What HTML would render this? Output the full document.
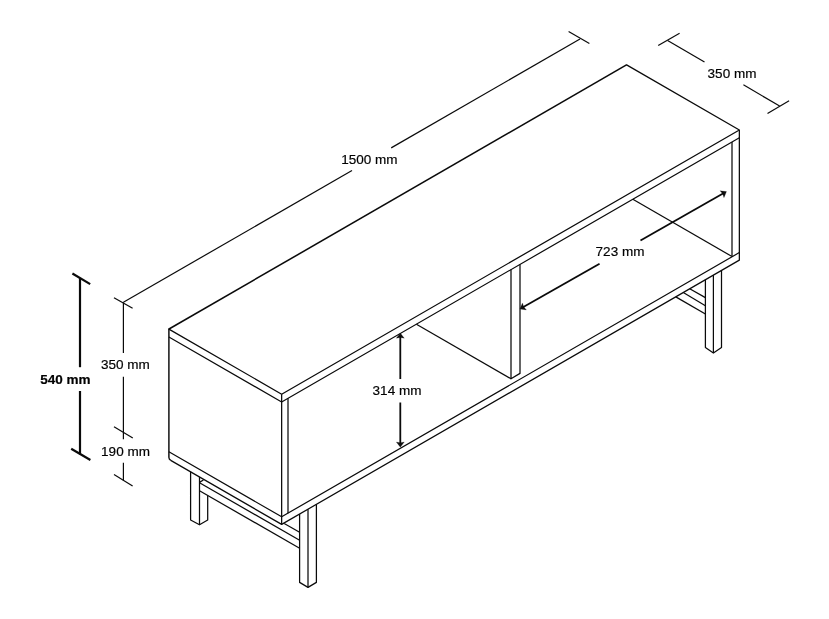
<!DOCTYPE html>
<html><head><meta charset="utf-8"><title>TV unit dimensions</title>
<style>
html,body{margin:0;padding:0;background:#fff;}
body{width:829px;height:619px;overflow:hidden;}
svg{display:block;}
text{font-family:"Liberation Sans",sans-serif;font-size:13.5px;fill:#000;stroke:#000;stroke-width:0.2px;}
</style></head><body>
<svg width="829" height="619" viewBox="0 0 829 619">
<rect width="829" height="619" fill="#fff"/>
<g stroke="#0a0a0a" fill="none">
<path d="M626.6 64.85 L739.35 129.95 L281.65 394.2 L168.9 329.1" stroke-width="1.25" fill="none" stroke-linejoin="round"/>
<line x1="168.6" y1="329.27" x2="626.9" y2="64.68" stroke-width="1.55" stroke-linecap="butt"/>
<path d="M170.7 460.34 L281.65 524.4 L739.35 260.15 L739.35 129.95" stroke-width="1.25" fill="none" stroke-linejoin="round"/>
<line x1="168.9" y1="328.8" x2="168.9" y2="457.7" stroke-width="1.45" stroke-linecap="butt"/>
<path d="M168.9 457.6 Q168.9 459.3 170.8 460.4" stroke-width="1.35" fill="none"/>
<line x1="281.65" y1="394.2" x2="281.65" y2="524.4" stroke-width="1.25" stroke-linecap="butt"/>
<path d="M168.9 336.9 L281.65 402 L739.35 137.75" stroke-width="1.2" fill="none" stroke-linejoin="round"/>
<path d="M168.9 451.7 L281.65 516.8 L739.35 252.55" stroke-width="1.2" fill="none" stroke-linejoin="round"/>
<line x1="288" y1="398.33" x2="288" y2="513.13" stroke-width="1.25" stroke-linecap="butt"/>
<line x1="732" y1="141.99" x2="732" y2="256.29" stroke-width="1.25" stroke-linecap="butt"/>
<line x1="632.84" y1="199.24" x2="732" y2="256.49" stroke-width="1.25" stroke-linecap="butt"/>
<path d="M511 269.58 L511 378.8 L520 373.4 L520 264.39" stroke-width="1.25" fill="none" stroke-linejoin="round"/>
<line x1="416.42" y1="324.19" x2="511" y2="378.8" stroke-width="1.25" stroke-linecap="butt"/>
<path d="M190.6 471.83 L190.6 520 L199.5 524.8 L207.7 520 L207.7 495.5" stroke-width="1.25" fill="none" stroke-linejoin="round"/>
<line x1="199.5" y1="476.97" x2="199.5" y2="524.8" stroke-width="1.25" stroke-linecap="butt"/>
<line x1="199.5" y1="482.8" x2="299.6" y2="540.2" stroke-width="1.25" stroke-linecap="butt"/>
<line x1="199.5" y1="490.8" x2="299.6" y2="548.2" stroke-width="1.25" stroke-linecap="butt"/>
<line x1="284.2" y1="523.5" x2="299.6" y2="532.2" stroke-width="1.25" stroke-linecap="butt"/>
<line x1="199.5" y1="482.4" x2="203.4" y2="480" stroke-width="1.25" stroke-linecap="butt"/>
<path d="M299.6 514.04 L299.6 582.4 L308 587.4 L316.4 582.4 L316.4 504.34" stroke-width="1.25" fill="none" stroke-linejoin="round"/>
<line x1="308" y1="509.19" x2="308" y2="587.4" stroke-width="1.25" stroke-linecap="butt"/>
<path d="M705.4 279.75 L705.4 347.5 L713.4 353 L721.5 347.5 L721.5 270.45" stroke-width="1.25" fill="none" stroke-linejoin="round"/>
<line x1="713.4" y1="275.13" x2="713.4" y2="353" stroke-width="1.25" stroke-linecap="butt"/>
<line x1="689.7" y1="288.81" x2="705.4" y2="297.6" stroke-width="1.25" stroke-linecap="butt"/>
<line x1="683.3" y1="292.51" x2="705.4" y2="305.7" stroke-width="1.25" stroke-linecap="butt"/>
<line x1="675.8" y1="296.84" x2="705.4" y2="314" stroke-width="1.25" stroke-linecap="butt"/>
<line x1="123.4" y1="302.3" x2="352" y2="170.48" stroke-width="1.2" stroke-linecap="butt"/>
<line x1="391.2" y1="147.87" x2="580" y2="39" stroke-width="1.2" stroke-linecap="butt"/>
<line x1="114" y1="297.7" x2="132.6" y2="308.3" stroke-width="1.2" stroke-linecap="butt"/>
<line x1="568.6" y1="31.5" x2="589.4" y2="43.5" stroke-width="1.2" stroke-linecap="butt"/>
<line x1="667.6" y1="40.4" x2="704.5" y2="62.01" stroke-width="1.2" stroke-linecap="butt"/>
<line x1="743.4" y1="84.8" x2="779.6" y2="106" stroke-width="1.2" stroke-linecap="butt"/>
<line x1="658.2" y1="45.5" x2="679.6" y2="33.3" stroke-width="1.2" stroke-linecap="butt"/>
<line x1="767.5" y1="113.5" x2="789.1" y2="100.7" stroke-width="1.2" stroke-linecap="butt"/>
<line x1="123.4" y1="302.2" x2="123.4" y2="353" stroke-width="1.2" stroke-linecap="butt"/>
<line x1="123.4" y1="376.7" x2="123.4" y2="439.3" stroke-width="1.2" stroke-linecap="butt"/>
<line x1="123.4" y1="462.8" x2="123.4" y2="480.5" stroke-width="1.2" stroke-linecap="butt"/>
<line x1="114" y1="426.7" x2="132.8" y2="438.1" stroke-width="1.2" stroke-linecap="butt"/>
<line x1="114" y1="474.6" x2="132.6" y2="486" stroke-width="1.2" stroke-linecap="butt"/>
<line x1="80" y1="278" x2="80" y2="367.2" stroke-width="2.2" stroke-linecap="butt"/>
<line x1="80" y1="391" x2="80" y2="454.5" stroke-width="2.2" stroke-linecap="butt"/>
<line x1="72.4" y1="273.5" x2="90.2" y2="284.1" stroke-width="2.2" stroke-linecap="butt"/>
<line x1="71.2" y1="448.8" x2="90.4" y2="460" stroke-width="2.2" stroke-linecap="butt"/>
<path d="M400.3 333 L396.3 338.2 L400.3 337.42 L404.3 338.2 Z" stroke-width="0.2" fill="#111" stroke-linejoin="round"/>
<path d="M400.3 447.2 L396.3 442 L400.3 442.78 L404.3 442 Z" stroke-width="0.2" fill="#111" stroke-linejoin="round"/>
<line x1="400.3" y1="336" x2="400.3" y2="379" stroke-width="1.8" stroke-linecap="butt"/>
<line x1="400.3" y1="402.5" x2="400.3" y2="444.2" stroke-width="1.8" stroke-linecap="butt"/>
<path d="M519.9 309 L526.4 309.91 L523.74 306.82 L522.44 302.95 Z" stroke-width="0.2" fill="#111" stroke-linejoin="round"/>
<path d="M726.5 191.6 L723.96 197.65 L722.66 193.78 L720 190.69 Z" stroke-width="0.2" fill="#111" stroke-linejoin="round"/>
<line x1="522.51" y1="307.52" x2="599.56" y2="263.73" stroke-width="1.8" stroke-linecap="butt"/>
<line x1="640.48" y1="240.48" x2="723.89" y2="193.08" stroke-width="1.8" stroke-linecap="butt"/>
</g>
<g style="will-change:opacity;opacity:0.999">
<text x="369.4" y="163.5" text-anchor="middle">1500 mm</text>
<text x="732" y="77.8" text-anchor="middle">350 mm</text>
<text x="125.3" y="368.8" text-anchor="middle">350 mm</text>
<text x="125.5" y="455.5" text-anchor="middle">190 mm</text>
<text x="65.3" y="383.7" text-anchor="middle" font-weight="bold">540 mm</text>
<text x="397" y="395.1" text-anchor="middle">314 mm</text>
<text x="620" y="256" text-anchor="middle">723 mm</text>
</g>
</svg>
</body></html>
